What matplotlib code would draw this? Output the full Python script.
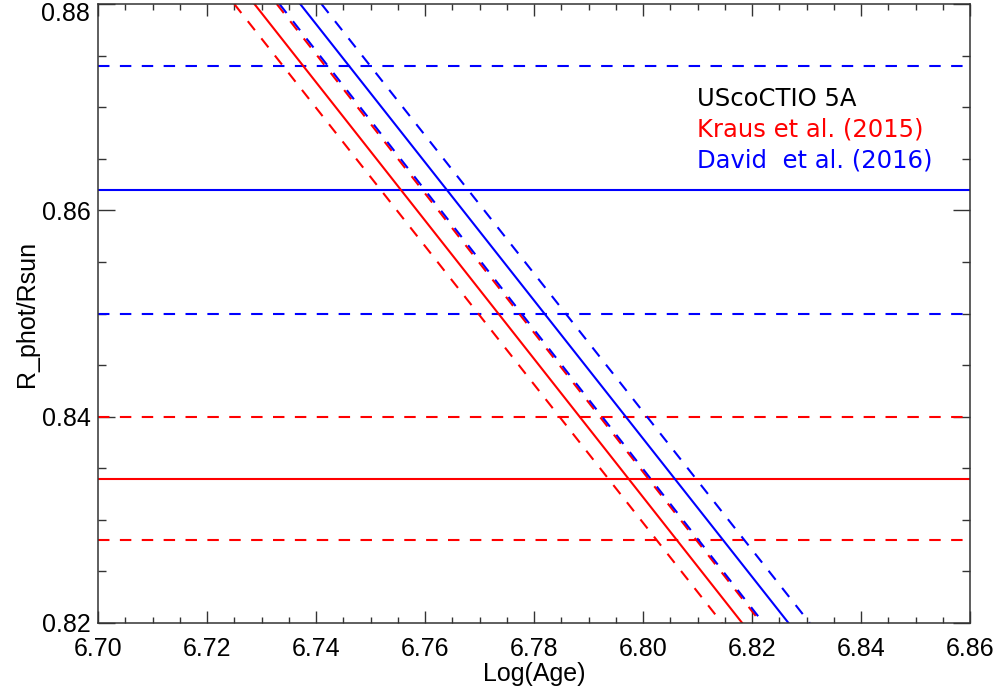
import matplotlib
matplotlib.use('Agg')
import matplotlib.pyplot as plt
from matplotlib.ticker import MultipleLocator, FuncFormatter

# ----------------------------------------------------------------------------
# DATA
# ----------------------------------------------------------------------------
# measured radius levels (first = value, solid; others = +/- error, dashed)
kraus_levels = [0.834, 0.840, 0.828]
david_levels = [0.862, 0.874, 0.850]
level_styles = ['solid', 'dashed', 'dashed']

# model tracks: Log(Age) where each track meets R = 0.88 and R = 0.82
track_r = [0.88, 0.82]
kraus_tracks = [[6.7287, 6.8182], [6.7250, 6.8145], [6.7328, 6.8217]]
kraus_track_styles = ['solid', 'dashed', 'dashed']
david_tracks = [[6.7371, 6.8267], [6.7333, 6.8221], [6.7410, 6.8306]]
david_track_styles = ['solid', 'dashed', 'dashed']

legend_text = ['UScoCTIO 5A', 'Kraus et al. (2015)', 'David  et al. (2016)']
legend_colors = ['black', 'red', 'blue']

xlim = (6.70, 6.86)
ylim = (0.82, 0.88)

# ----------------------------------------------------------------------------
# PLOT
# ----------------------------------------------------------------------------
plt.rcParams['font.family'] = ['Liberation Sans', 'DejaVu Sans']

fig = plt.figure(figsize=(9.94, 6.92), dpi=100)
ax = fig.add_axes([98 / 994, 1 - 623 / 692, 872 / 994, 619 / 692])

lw = 1.5
dash = (0, (5.5, 5.0))


def ls(style):
    return '-' if style == 'solid' else dash


for lev, st in zip(kraus_levels, level_styles):
    ax.axhline(lev, color='red', lw=lw, linestyle=ls(st))
for lev, st in zip(david_levels, level_styles):
    ax.axhline(lev, color='blue', lw=lw, linestyle=ls(st))

for xs, st in zip(kraus_tracks, kraus_track_styles):
    ax.plot(xs, track_r, color='red', lw=lw, linestyle=ls(st))
for xs, st in zip(david_tracks, david_track_styles):
    ax.plot(xs, track_r, color='blue', lw=lw, linestyle=ls(st))

ax.set_xlim(*xlim)
ax.set_ylim(*ylim)

ax.xaxis.set_major_locator(MultipleLocator(0.02))
ax.xaxis.set_minor_locator(MultipleLocator(0.005))
ax.yaxis.set_major_locator(MultipleLocator(0.02))
ax.yaxis.set_minor_locator(MultipleLocator(0.005))
ax.xaxis.set_major_formatter(FuncFormatter(lambda v, p: f'{v:.2f}'))
# top label (0.88) is drawn separately so it sits inside the figure
ax.yaxis.set_major_formatter(
    FuncFormatter(lambda v, p: '' if abs(v - ylim[1]) < 1e-6 else f'{v:.2f}'))

ax.tick_params(which='both', direction='in', top=True, right=True,
               color='#333333', width=1.0, labelsize=18)
ax.tick_params(axis='x', which='major', length=8.6, pad=10)
ax.tick_params(axis='x', which='minor', length=4.0)
ax.tick_params(axis='y', which='major', length=12.2, pad=5)
ax.tick_params(axis='y', which='minor', length=6.1)

for sp in ax.spines.values():
    sp.set_color('#333333')
    sp.set_linewidth(1.1)

ax.text(-0.0095, 1.004, f'{ylim[1]:.2f}', transform=ax.transAxes,
        fontsize=18, ha='right', va='top')

ax.set_xlabel('Log(Age)', fontsize=18, labelpad=1)
ax.set_ylabel('R_phot/Rsun', fontsize=18, labelpad=2)

for i, (txt, col) in enumerate(zip(legend_text, legend_colors)):
    ax.text(0.687, 0.847 - i * 0.050, txt, color=col, transform=ax.transAxes,
            fontsize=17.5, family='DejaVu Sans', va='center', ha='left')

fig.savefig('out.png', dpi=100)
